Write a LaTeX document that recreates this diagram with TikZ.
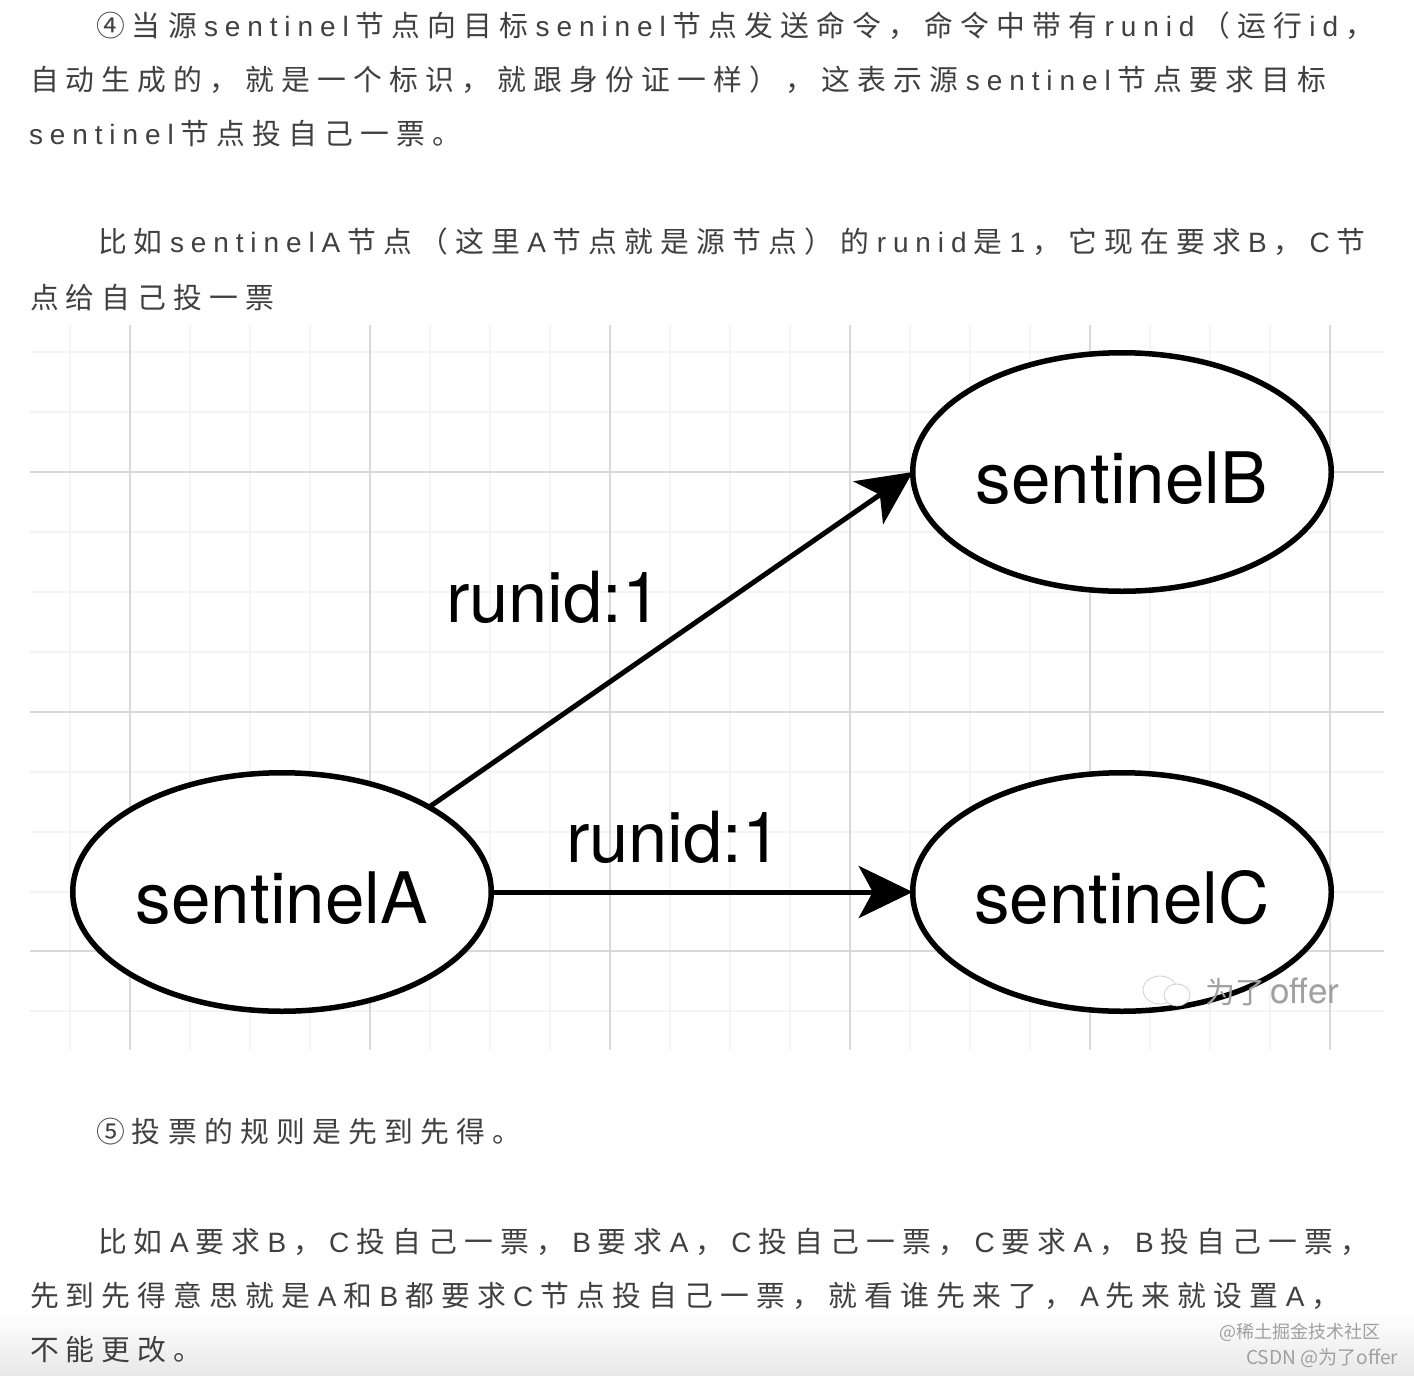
\documentclass[tikz,border=0pt]{standalone}
\usepackage{fontspec}
\usetikzlibrary{shapes.geometric,arrows.meta}
\setmainfont{TeX Gyre Heros}
\newfontfamily\zhbody{Noto Sans CJK SC}
\newfontfamily\labody[Scale=0.972]{Liberation Sans}
\def\endtrack{\endtrack}
\def\trackloop#1{\ifx#1\endtrack\else#1\kern\tracksize\expandafter\trackloop\fi}
\def\tracksize{7.2pt}
\newcommand\zh[1]{{\zhbody\trackloop#1\endtrack}}
\newcommand\la[1]{{\def\tracksize{6.9pt}\labody\trackloop#1\endtrack}}
\definecolor{bodytext}{HTML}{404040}
\definecolor{gridmajor}{HTML}{D8D8D8}
\definecolor{gridminor}{HTML}{F4F4F4}
\definecolor{wmgrey}{HTML}{A0A0A0}
\tikzset{
  line/.style={anchor=base west,inner sep=0pt,outer sep=0pt,text=bodytext,font=\fontsize{28.8}{30}\selectfont},
  sentinel/.style={ellipse,draw=black,line width=5.5pt,fill=white,minimum width=418.5pt,minimum height=238.5pt,
    inner sep=0pt,outer sep=0pt,text height=62pt,text depth=0pt,font=\fontsize{71}{71}\selectfont},
  runlabel/.style={anchor=base west,inner sep=0pt,outer sep=0pt,font=\fontsize{70.5}{71}\selectfont},
  link/.style={line width=5pt,draw=black,-{Stealth[length=54pt,width=52pt,inset=14pt]}},
  major/.style={draw=gridmajor,line width=1.8pt},
  minor/.style={draw=gridminor,line width=2.2pt},
  wm/.style={anchor=base west,inner sep=0pt,outer sep=0pt,text=wmgrey},
}
\begin{document}
\begin{tikzpicture}[x=1pt,y=-1pt]
\useasboundingbox (0,0) rectangle (1414,1376);
\fill[white] (0,0) rectangle (1414,1376);
\shade[top color=white,bottom color=black!9] (0,1312) rectangle (1414,1376);
% grid
\foreach \x in {70,190,250,310,430,490,550,670,730,790,910,970,1030,1150,1210,1270}
  \draw[minor] (\x,325) -- (\x,1050);
\foreach \y in {352,412,532,592,652,772,832,892,1011}
  \draw[minor] (30,\y) -- (1384,\y);
\foreach \x in {130,370,610,850,1090,1330}
  \draw[major] (\x,325) -- (\x,1050);
\foreach \y in {472,712,951}
  \draw[major] (30,\y) -- (1384,\y);
% body text
\node[line] (l1) at (96,36) {\zh{④当源}\la{sentinel}\zh{节点向目标}\la{seninel}\zh{节点发送命令，命令中带有}\la{runid}\zh{（运行}\la{id}\zh{，}};
\node[line] (l2) at (30,90) {\zh{自动生成的，就是一个标识，就跟身份证一样），这表示源}\la{sentinel}\zh{节点要求目标}};
\node[line] (l3) at (29,144) {\la{sentinel}\zh{节点投自己一票。}};
\node[line] (l4) at (98,252) {\zh{比如}\la{sentinelA}\zh{节点（这里}\la{A}\zh{节点就是源节点）的}\la{runid}\zh{是}\la{1}\zh{，它现在要求}\la{B}\zh{，}\la{C}\zh{节}};
\node[line] (l5) at (30,308) {\zh{点给自己投一票}};
\node[line] (l6) at (96,1142) {\zh{⑤投票的规则是先到先得。}};
\node[line] (l7) at (98,1252) {\zh{比如}\la{A}\zh{要求}\la{B}\zh{，}\la{C}\zh{投自己一票，}\la{B}\zh{要求}\la{A}\zh{，}\la{C}\zh{投自己一票，}\la{C}\zh{要求}\la{A}\zh{，}\la{B}\zh{投自己一票，}};
\node[line] (l8) at (30,1306) {\zh{先到先得意思就是}\la{A}\zh{和}\la{B}\zh{都要求}\la{C}\zh{节点投自己一票，就看谁先来了，}\la{A}\zh{先来就设置}\la{A}\zh{，}};
\node[line] (l9) at (30,1360) {\zh{不能更改。}};
% diagram
\node[sentinel] (A) at (282,892) {sentinelA};
\node[sentinel] (B) at (1122,472) {sentinelB};
\node[sentinel] (C) at (1122,892) {sentinelC};
\draw[link] (A.30) -- (B.west);
\draw[link] (A.east) -- (C.west);
\node[runlabel] (r1) at (446,622) {runid:1};
\node[runlabel] (r2) at (566,862) {runid:1};
% image watermark
\draw[wmgrey!50,fill=white,line width=0.8pt] (1160,990) ellipse (17pt and 14pt);
\draw[wmgrey!50,fill=white,line width=0.8pt] (1177,995) ellipse (13pt and 11pt);
\node[wm] (w1) at (1205,1003) {\fontsize{30}{30}\zhbody 为了};
\node[wm] (w2) at (1270,1003) {\fontsize{35}{35}\selectfont offer};
\node[wm] (w3) at (1219,1338) {\fontsize{18}{18}\zhbody @稀土掘金技术社区};
\node[wm] (w4) at (1246,1364) {\fontsize{19.1}{19.1}\zhbody CSDN @为了offer};
\end{tikzpicture}
\end{document}
